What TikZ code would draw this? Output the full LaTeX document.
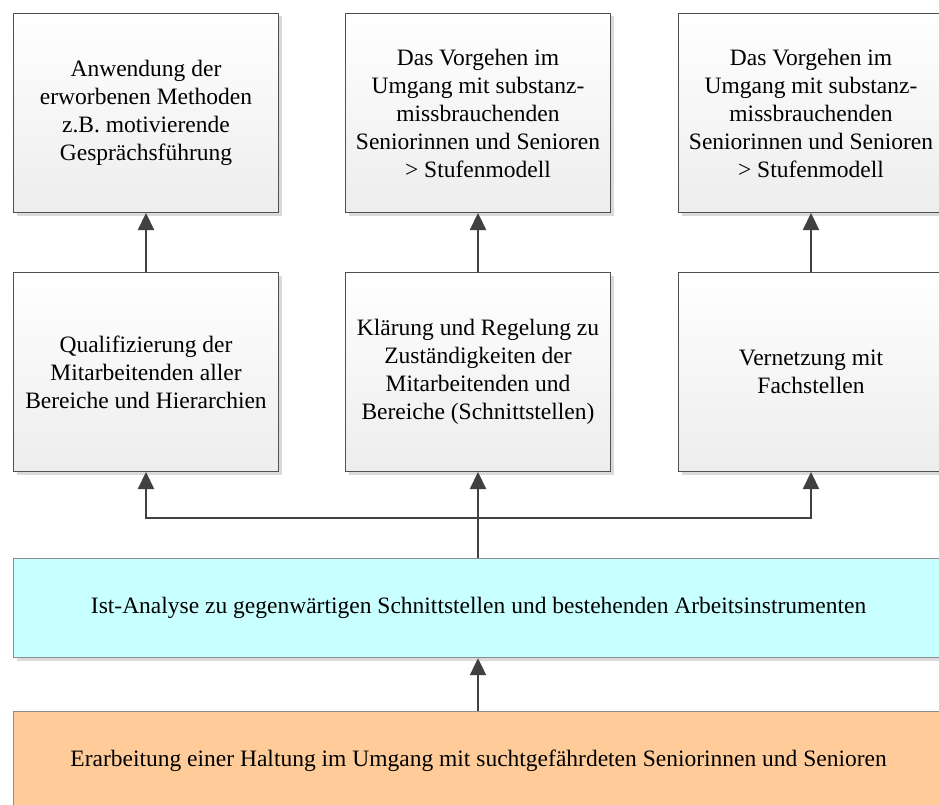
\documentclass[tikz,border=0pt]{standalone}
\usepackage{fontspec}
\setmainfont{Liberation Serif}
\usetikzlibrary{arrows.meta,shadows}
\definecolor{boxborder}{HTML}{505050}
\definecolor{boxbot}{HTML}{EDEDED}
\definecolor{cyanfill}{HTML}{C8FFFF}
\definecolor{orangefill}{HTML}{FFCC99}
\definecolor{flatborder}{HTML}{8C8C8C}
\definecolor{arrowcol}{HTML}{404040}
\definecolor{shadowcol}{HTML}{DADADA}
\begin{document}
\begin{tikzpicture}[x=1pt,y=-1pt,
  font=\fontsize{23.5}{28}\selectfont,
  myshadow/.style={general shadow={fill=shadowcol, shadow xshift=3pt, shadow yshift=-3pt}},
  box/.style={draw=boxborder, line width=1pt, top color=white, bottom color=boxbot,
    minimum width=265pt, minimum height=199pt, align=center, inner sep=0pt,
    anchor=north west, myshadow},
  flatbox/.style={draw=flatborder, line width=1.2pt, minimum width=930pt, minimum height=99pt,
    align=center, inner sep=0pt, anchor=north west, myshadow},
  arr/.style={draw=arrowcol, line width=2.2pt, -{Triangle[length=17pt,width=16pt]}}]
\useasboundingbox (0,0) rectangle (939,805);

\node[box] (t1) at (13,13) {Anwendung der\\erworbenen Methoden\\z.B. motivierende\\Gesprächsführung};
\node[box] (t2) at (345,13) {Das Vorgehen im\\Umgang mit substanz-\\missbrauchenden\\Seniorinnen und Senioren\\> Stufenmodell};
\node[box] (t3) at (678,13) {Das Vorgehen im\\Umgang mit substanz-\\missbrauchenden\\Seniorinnen und Senioren\\> Stufenmodell};

\node[box] (m1) at (13,272) {Qualifizierung der\\Mitarbeitenden aller\\Bereiche und Hierarchien};
\node[box] (m2) at (345,272) {Klärung und Regelung zu\\Zuständigkeiten der\\Mitarbeitenden und\\Bereiche (Schnittstellen)};
\node[box] (m3) at (678,272) {Vernetzung mit\\Fachstellen};

\node[flatbox, fill=cyanfill] (ist) at (13,558) {Ist-Analyse zu gegenwärtigen Schnittstellen und bestehenden Arbeitsinstrumenten};
\node[flatbox, fill=orangefill] (hal) at (13,711) {Erarbeitung einer Haltung im Umgang mit suchtgefährdeten Seniorinnen und Senioren};

\coordinate (j) at (m2.south |- 0,518);

\draw[arr] (m1.north) -- (t1.south);
\draw[arr] (m2.north) -- (t2.south);
\draw[arr] (m3.north) -- (t3.south);
\draw[arr] (ist.north -| m2.south) -- (m2.south);
\draw[arr] (j) -| (m1.south);
\draw[arr] (j) -| (m3.south);
\draw[arr] (hal.north -| m2.south) -- (ist.south -| m2.south);
\end{tikzpicture}
\end{document}
